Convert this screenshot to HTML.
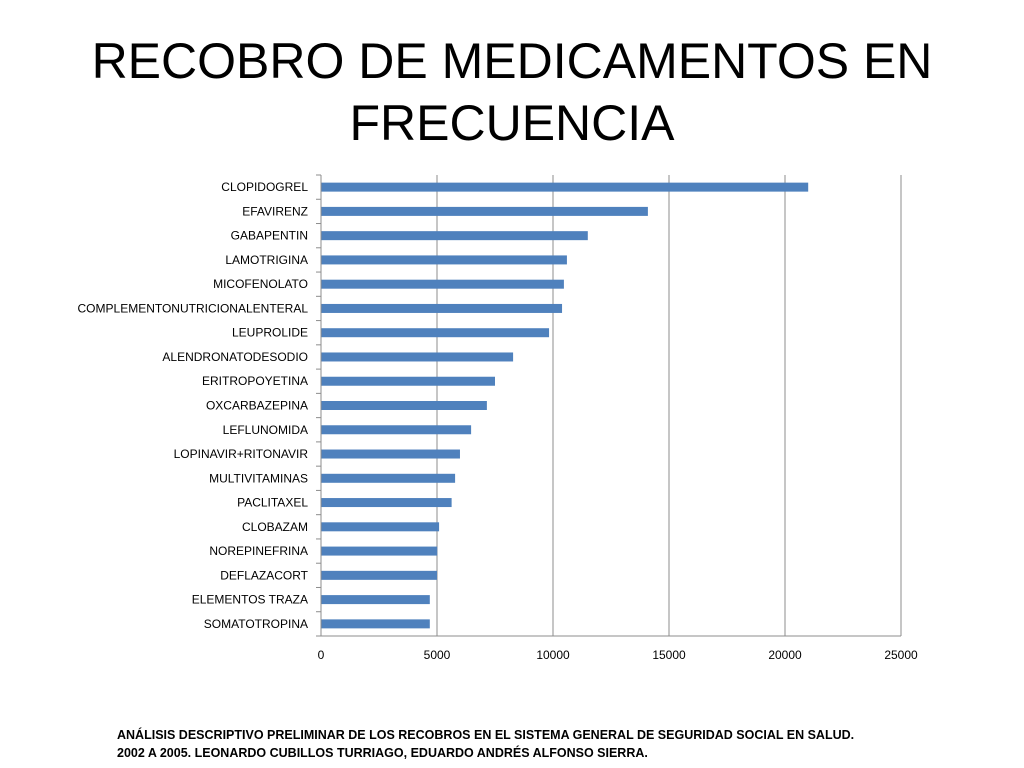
<!DOCTYPE html>
<html><head><meta charset="utf-8"><style>
body{margin:0;background:#fff;width:1024px;height:768px;overflow:hidden;font-family:"Liberation Sans",sans-serif;}
#title{position:absolute;left:0;top:30px;width:1024px;text-align:center;font-size:50px;line-height:62px;color:#000;}
#foot{position:absolute;left:117px;top:726px;font-size:12.5px;font-weight:bold;line-height:18px;}
svg{position:absolute;left:0;top:0;}
</style></head><body>
<div id="title">RECOBRO DE MEDICAMENTOS EN<br>FRECUENCIA</div>
<svg id="chart" width="1024" height="768"></svg>
<div id="foot">ANÁLISIS DESCRIPTIVO PRELIMINAR DE LOS RECOBROS EN EL SISTEMA GENERAL DE SEGURIDAD SOCIAL EN SALUD.<br>2002 A 2005. LEONARDO CUBILLOS TURRIAGO, EDUARDO ANDRÉS ALFONSO SIERRA.</div>
<script>
const categories=["CLOPIDOGREL","EFAVIRENZ","GABAPENTIN","LAMOTRIGINA","MICOFENOLATO","COMPLEMENTONUTRICIONALENTERAL","LEUPROLIDE","ALENDRONATODESODIO","ERITROPOYETINA","OXCARBAZEPINA","LEFLUNOMIDA","LOPINAVIR+RITONAVIR","MULTIVITAMINAS","PACLITAXEL","CLOBAZAM","NOREPINEFRINA","DEFLAZACORT","ELEMENTOS TRAZA","SOMATOTROPINA"];
const values=[21000,14090,11500,10600,10470,10390,9830,8280,7500,7150,6470,5990,5780,5630,5090,5010,5000,4690,4690];
const ticks=[0,5000,10000,15000,20000,25000];
const NS="http://www.w3.org/2000/svg";
const svg=document.getElementById('chart');
const x0=321,x1=901,yTop=175,yBot=636,xMax=25000;
const xs=v=>x0+(x1-x0)*v/xMax;
const band=(yBot-yTop)/categories.length;
const ys=i=>yTop+band*(i+0.5);
function mk(t,a){const e=document.createElementNS(NS,t);for(const k in a)e.setAttribute(k,a[k]);svg.appendChild(e);return e;}
ticks.forEach(t=>{
 if(t>0){const g=mk('line',{x1:xs(t),x2:xs(t),y1:yTop,y2:yBot,stroke:'#8c8c8c','stroke-width':1});
 
 }
 const l=mk('text',{x:xs(t),y:yBot+23,'text-anchor':'middle','font-size':12,'font-family':'Liberation Sans, sans-serif'});
 l.textContent=t;
 
 
});
categories.forEach((c,i)=>{
 const b=mk('rect',{x:x0,y:ys(i)-4.5,width:xs(values[i])-x0,height:9,fill:'#4f81bd'});
 
 
 const l=mk('text',{x:308,y:ys(i)+4,'text-anchor':'end','font-size':12,'font-family':'Liberation Sans, sans-serif'});
 l.textContent=c;
 
 
});
for(let i=0;i<=categories.length;i++){
 const t=mk('line',{x1:x0-5,x2:x0,y1:yTop+band*i,y2:yTop+band*i,stroke:'#8c8c8c'});
 
 
}
const ya=mk('line',{x1:x0,x2:x0,y1:yTop,y2:yBot,stroke:'#8c8c8c'});


const xa=mk('line',{x1:x0,x2:x1,y1:yBot,y2:yBot,stroke:'#8c8c8c'});


</script>
</body></html>
